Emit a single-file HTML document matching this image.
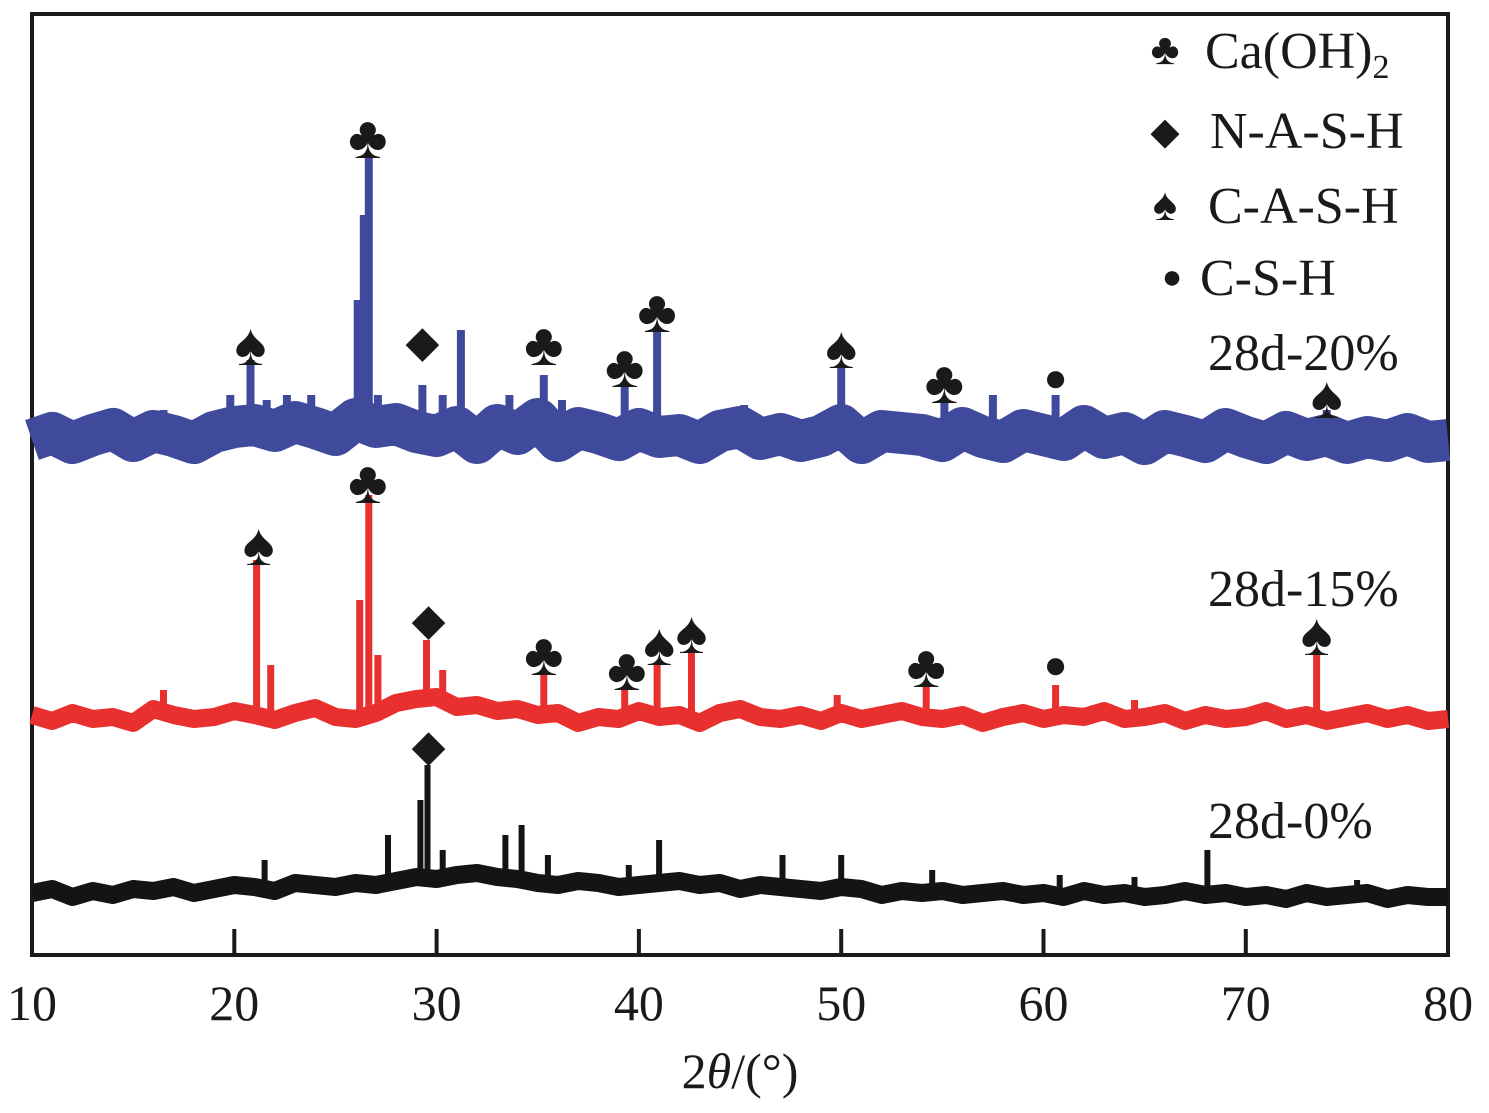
<!DOCTYPE html>
<html><head><meta charset="utf-8"><style>
body{margin:0;background:#fff}
svg text{font-family:"Liberation Serif",serif;fill:#1a1a1a}
</style></head><body>
<svg id="chart" width="1489" height="1108" viewBox="0 0 1489 1108" xmlns="http://www.w3.org/2000/svg">
<rect x="32" y="14" width="1416" height="941" fill="none" stroke="#1a1a1a" stroke-width="4"/>
<g id="ticks"></g>
<g id="series"></g>
<g id="markers"></g>
<text x="740" y="1088" font-size="50" text-anchor="middle">2<tspan font-style="italic">θ</tspan>/(°)</text>
<g font-size="52">
<text x="1165" y="64" font-size="44" text-anchor="middle">♣</text>
<text x="1205" y="68">Ca(OH)<tspan font-size="34" dy="10">2</tspan></text>
<text x="1165" y="144" font-size="38" text-anchor="middle">◆</text>
<text x="1210" y="148">N-A-S-H</text>
<text x="1165" y="220" font-size="46" text-anchor="middle">♠</text>
<text x="1208" y="223">C-A-S-H</text>
<text x="1172" y="288" font-size="34" text-anchor="middle">●</text>
<text x="1200" y="295">C-S-H</text>
</g>
<text x="1208" y="370" font-size="52">28d-20%</text>
<text x="1208" y="606" font-size="52">28d-15%</text>
<text x="1208" y="838" font-size="52">28d-0%</text>
</svg>
<script>
const xTicks=[10,20,30,40,50,60,70,80];
const baseStart=10;
const blueBase=[515,522,512,520,526,514,524,519,512,523,528,530,524,533,527,520,536,528,531,523,519,528,512,530,521,536,514,527,522,515,526,518,520,512,524,528,516,521,514,519,530,512,524,522,520,514,527,518,513,525,520,515,529,517,522,511,524,519,513,526,518,512,523,515,520,512,518,514,521,513,515];
const redBase=[240,234,242,236,238,232,246,240,236,238,244,240,235,242,247,238,236,242,252,256,258,248,250,244,246,240,242,232,238,236,244,238,240,232,242,246,238,236,240,234,242,236,240,244,238,236,240,232,238,242,236,240,238,244,236,238,242,234,240,236,238,244,236,240,234,238,242,236,240,234,236];
const blackBase=[62,66,58,64,60,66,64,68,62,66,70,68,64,72,70,68,72,70,74,78,76,80,82,78,76,72,70,74,72,68,70,72,74,70,72,66,70,68,66,64,68,66,60,64,62,64,60,62,64,60,62,58,64,60,62,58,60,64,60,62,58,60,56,62,58,60,62,56,60,58,58];
const bluePeaks=[[16.5,545],[19.8,560],[20.8,595],[21.6,555],[22.6,560],[23.8,560],[26.1,655],[26.4,740],[26.65,800],[27.1,560],[29.3,570],[30.3,560],[31.2,625],[33.6,560],[35.3,580],[36.2,555],[39.3,570],[40.9,625],[45.2,550],[50.0,590],[55.1,555],[57.5,560],[60.6,560],[74.0,545]];
const redPeaks=[[16.5,265],[21.1,395],[21.8,290],[26.2,355],[26.65,460],[27.1,300],[29.5,315],[30.3,285],[35.3,285],[39.3,265],[40.9,290],[42.6,305],[49.8,260],[54.2,270],[60.6,270],[64.5,255],[73.5,305]];
const blackPeaks=[[21.5,95],[27.6,120],[29.2,155],[29.55,190],[30.3,105],[33.4,120],[34.2,130],[35.5,100],[39.5,90],[41.0,115],[47.1,100],[50.0,100],[54.5,85],[60.8,80],[64.5,78],[68.1,105],[75.5,75]];
const blueMarks=[['♠',20.8,345],['♣',26.6,138],['◆',29.3,342],['♣',35.3,345],['♣',39.3,367],['♣',40.9,312],['♠',50.0,348],['♣',55.1,383],['●',60.6,378],['♠',74.0,398]];
const redMarks=[['♠',21.2,545],['♣',26.6,483],['◆',29.6,620],['♣',35.3,655],['♣',39.4,670],['♠',41.0,645],['♠',42.6,633],['♣',54.2,667],['●',60.6,665],['♠',73.5,635]];
const blackMarks=[['◆',29.6,746]];

const NS='http://www.w3.org/2000/svg';
const xS=v=>32+(v-10)*20.23;
const yS=v=>955-v;
function mk(t,a){const e=document.createElementNS(NS,t);for(const k in a)e.setAttribute(k,a[k]);return e;}
const tg=document.getElementById('ticks');
xTicks.forEach(t=>{
  if(t>10&&t<80){const l=mk('line',{x1:xS(t),x2:xS(t),y1:955,y2:929,stroke:'#1a1a1a','stroke-width':4});
  
  
  tg.appendChild(l);}
  const tx=mk('text',{x:xS(t),y:1020,'font-size':50,'text-anchor':'middle'});tx.textContent=t;
  
  
  tg.appendChild(tx);
});
function baseLine(base){
  return base.map((v,i)=>xS(baseStart+i).toFixed(1)+','+yS(v).toFixed(1)).join(' ');
}
function peakPath(base,peaks){
  const bAt=x=>{const i=Math.min(base.length-2,Math.floor(x-baseStart));return base[i]+(base[i+1]-base[i])*(x-baseStart-i);};
  return peaks.map(p=>'M'+xS(p[0]).toFixed(1)+','+yS(bAt(p[0])).toFixed(1)+'V'+yS(p[1]).toFixed(1)).join(' ');
}
const sg=document.getElementById('series');
[[blueBase,bluePeaks,'#3f4a9c',42,8,'series-28d-20'],[redBase,redPeaks,'#e8302f',18,7,'series-28d-15'],[blackBase,blackPeaks,'#141414',18,6,'series-28d-0']].forEach(s=>{
  const pl=mk('polyline',{points:baseLine(s[0]),fill:'none',stroke:s[2],'stroke-width':s[3],'stroke-linejoin':'round'});
  
  
  sg.appendChild(pl);
  const pk=mk('path',{d:peakPath(s[0],s[1]),fill:'none',stroke:s[2],'stroke-width':s[4]});
  
  
  sg.appendChild(pk);
});
const mg=document.getElementById('markers');
[...blueMarks,...redMarks,...blackMarks].forEach(m=>{
  const fs=m[0]==='●'?40:(m[0]==='◆'?44:60);
  const t=mk('text',{x:xS(m[1]),y:m[2]+fs*0.33,'font-size':fs,'text-anchor':'middle'});t.textContent=m[0];
  
  
  mg.appendChild(t);
});
</script>
</body></html>
